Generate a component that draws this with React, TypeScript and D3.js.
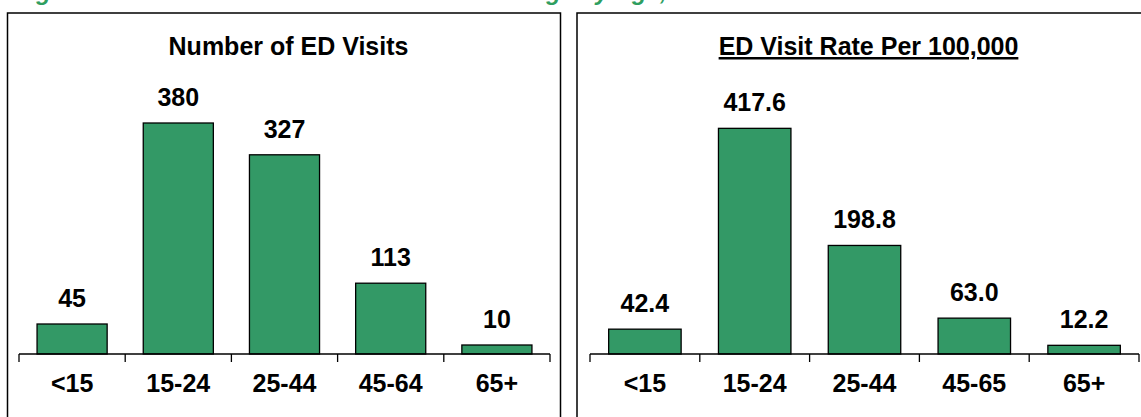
import * as d3 from "d3"
import { useEffect, useRef } from "react"

// Left panel: number of ED visits by age group
const countAgeGroups = ["<15", "15-24", "25-44", "45-64", "65+"]
const visitCounts = [45, 380, 327, 113, 10]

// Right panel: ED visit rate per 100,000 by age group
const rateAgeGroups = ["<15", "15-24", "25-44", "45-65", "65+"]
const visitRates = [42.4, 417.6, 198.8, 63.0, 12.2]

const captionText = "Figure 3. Number and Rate of ED Visits for Drugs by Age, 2011"

const BAR_FILL = "#339966"
const FONT = "Arial, 'Liberation Sans', sans-serif"

interface PanelSpec {
  title: string
  underline: boolean
  categories: string[]
  values: number[]
  format: (v: number) => string
  box: { x: number; width: number }
  plot: { left: number; right: number }
  yDomain: [number, number]
}

const App: React.FC = () => {
  const svgRef = useRef<SVGSVGElement | null>(null)

  useEffect(() => {
    if (!svgRef.current) return
    const svg = d3.select(svgRef.current)
    svg.selectAll("*").remove()

    const width = 1141
    const height = 417
    const axisY = 354
    const plotTop = 111

    svg.attr("width", width).attr("height", height)

    // Caption, clipped at the top of the picture
    svg
      .append("text")
      .attr("x", 15)
      .attr("y", 0)
      .attr("fill", "#2f9e5f")
      .style("font", `italic bold 24px ${FONT}`)
      .text(captionText)

    const panels: PanelSpec[] = [
      {
        title: "Number of ED Visits",
        underline: false,
        categories: countAgeGroups,
        values: visitCounts,
        format: d3.format("d"),
        box: { x: 7.5, width: 553 },
        plot: { left: 19, right: 550 },
        yDomain: [-5, 400],
      },
      {
        title: "ED Visit Rate Per 100,000",
        underline: true,
        categories: rateAgeGroups,
        values: visitRates,
        format: d3.format(".1f"),
        box: { x: 577, width: 600 },
        plot: { left: 590, right: 1139 },
        yDomain: [-4, 450],
      },
    ]

    panels.forEach((p) => {
      const g = svg.append("g")

      // Panel border (runs off the bottom of the picture)
      g.append("rect")
        .attr("x", p.box.x)
        .attr("y", 13)
        .attr("width", p.box.width)
        .attr("height", 420)
        .attr("fill", "none")
        .attr("stroke", "#000")
        .attr("stroke-width", 1.5)

      g.append("text")
        .attr("x", (p.plot.left + p.plot.right) / 2 + 4)
        .attr("y", 55)
        .attr("text-anchor", "middle")
        .style("font", `bold 25px ${FONT}`)
        .style("text-decoration", p.underline ? "underline" : "none")
        .text(p.title)

      const x = d3
        .scaleBand()
        .domain(p.categories)
        .range([p.plot.left, p.plot.right])
        .paddingInner(0.34)
        .paddingOuter(0.17)

      const y = d3.scaleLinear().domain(p.yDomain).range([axisY, plotTop])

      const data = p.categories.map((c, i) => ({ cat: c, value: p.values[i] }))

      g.selectAll(".bar")
        .data(data)
        .enter()
        .append("rect")
        .attr("class", "bar")
        .attr("x", (d) => x(d.cat)!)
        .attr("y", (d) => y(d.value))
        .attr("width", x.bandwidth())
        .attr("height", (d) => axisY - y(d.value))
        .attr("fill", BAR_FILL)
        .attr("stroke", "#000")
        .attr("stroke-width", 1.3)

      g.selectAll(".value-label")
        .data(data)
        .enter()
        .append("text")
        .attr("class", "value-label")
        .attr("x", (d) => x(d.cat)! + x.bandwidth() / 2)
        .attr("y", (d) => y(d.value) - 17)
        .attr("text-anchor", "middle")
        .style("font", `bold 25px ${FONT}`)
        .text((d) => p.format(d.value))

      // Category axis with ticks between categories
      const step = x.step()
      const boundaries = d3.range(p.categories.length + 1).map(
        (i) => p.plot.left + i * step,
      )
      g.append("line")
        .attr("x1", p.plot.left)
        .attr("x2", p.plot.right)
        .attr("y1", axisY)
        .attr("y2", axisY)
        .attr("stroke", "#000")
        .attr("stroke-width", 1.3)
      g.selectAll(".tick")
        .data(boundaries)
        .enter()
        .append("line")
        .attr("class", "tick")
        .attr("x1", (d) => d)
        .attr("x2", (d) => d)
        .attr("y1", axisY)
        .attr("y2", axisY + 8)
        .attr("stroke", "#000")
        .attr("stroke-width", 1.3)

      g.selectAll(".cat-label")
        .data(p.categories)
        .enter()
        .append("text")
        .attr("class", "cat-label")
        .attr("x", (d) => x(d)! + x.bandwidth() / 2)
        .attr("y", 392)
        .attr("text-anchor", "middle")
        .style("font", `bold 25px ${FONT}`)
        .text((d) => d)
    })
  }, [])

  return (
    <svg
      ref={svgRef}
      style={{ position: "absolute", left: 0, top: 0, display: "block", background: "#fff" }}
    />
  )
}

export default App
